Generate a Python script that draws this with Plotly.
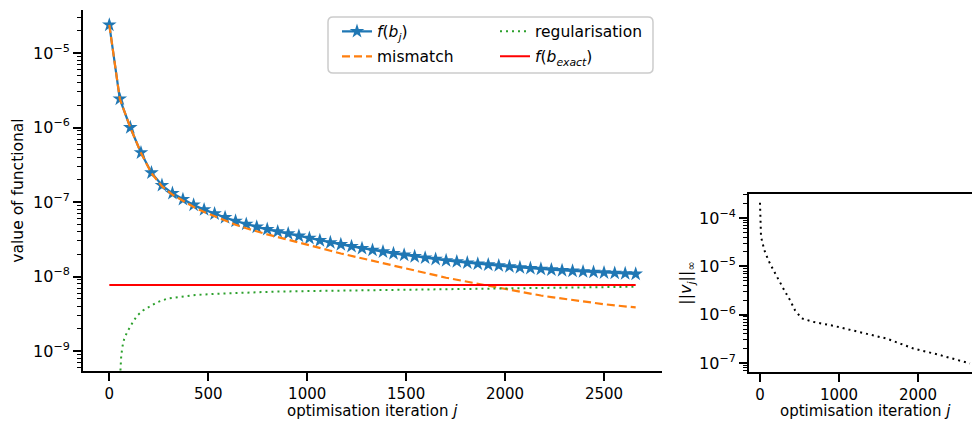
import plotly.graph_objects as go

# ---------------- data ----------------
iters_marked = [0, 53, 106, 160, 213, 266, 319, 372, 426, 479, 532, 585, 638, 692, 745,
                798, 851, 904, 958, 1011, 1064, 1117, 1170, 1224, 1277, 1330, 1383, 1436,
                1490, 1543, 1596, 1649, 1702, 1756, 1809, 1862, 1915, 1968, 2022, 2075,
                2128, 2181, 2234, 2288, 2341, 2394, 2447, 2500, 2554, 2607, 2660]
functional = [2.38e-5, 2.42e-6, 1.0e-6, 4.59e-7, 2.47e-7, 1.675e-7, 1.309e-7, 1.086e-7,
              9.14e-8, 7.91e-8, 6.97e-8, 6.21e-8, 5.56e-8, 5.05e-8, 4.63e-8, 4.30e-8,
              4.01e-8, 3.76e-8, 3.50e-8, 3.27e-8, 3.05e-8, 2.86e-8, 2.69e-8, 2.54e-8,
              2.39e-8, 2.26e-8, 2.15e-8, 2.04e-8, 1.945e-8, 1.86e-8, 1.78e-8, 1.71e-8,
              1.64e-8, 1.585e-8, 1.53e-8, 1.48e-8, 1.44e-8, 1.40e-8, 1.36e-8, 1.32e-8,
              1.29e-8, 1.26e-8, 1.233e-8, 1.208e-8, 1.186e-8, 1.164e-8, 1.146e-8,
              1.127e-8, 1.112e-8, 1.096e-8, 1.081e-8]
mismatch = [2.38e-5, 2.42e-6, 1.0e-6, 4.56e-7, 2.43e-7, 1.63e-7, 1.257e-7, 1.032e-7,
            8.58e-8, 7.34e-8, 6.39e-8, 5.62e-8, 4.96e-8, 4.44e-8, 4.02e-8, 3.68e-8,
            3.39e-8, 3.13e-8, 2.87e-8, 2.63e-8, 2.41e-8, 2.22e-8, 2.04e-8, 1.89e-8,
            1.74e-8, 1.605e-8, 1.49e-8, 1.38e-8, 1.28e-8, 1.19e-8, 1.11e-8, 1.037e-8,
            9.64e-9, 9.05e-9, 8.47e-9, 7.94e-9, 7.51e-9, 7.08e-9, 6.65e-9, 6.22e-9,
            5.89e-9, 5.56e-9, 5.3e-9, 5.05e-9, 4.83e-9, 4.62e-9, 4.43e-9, 4.25e-9,
            4.1e-9, 3.96e-9, 3.85e-9]
reg_iters = [45, 50, 55, 60, 66, 75, 90, 105, 125, 144, 170, 202, 240, 298, 360, 434,
             530, 650, 821, 1000, 1200, 1401, 1600, 1800, 1982, 2200, 2400, 2660]
regularisation = [1.5e-10, 3e-10, 5.9e-10, 8.5e-10, 1.14e-9, 1.45e-9, 1.8e-9, 2.12e-9,
                  2.6e-9, 3.04e-9, 3.5e-9, 3.93e-9, 4.5e-9, 5.1e-9, 5.4e-9, 5.65e-9,
                  5.85e-9, 6.02e-9, 6.25e-9, 6.38e-9, 6.5e-9, 6.59e-9, 6.7e-9, 6.83e-9,
                  6.95e-9, 7.07e-9, 7.17e-9, 7.3e-9]
exact_iters = [0, 2660]
f_exact = [7.7e-9, 7.7e-9]

v_iters = [0, 13, 55, 105, 169, 245, 308, 380, 443, 527, 675, 928, 1266, 1603, 1941,
           2278, 2658]
v_norm = [2.07e-4, 4.1e-5, 2.17e-5, 1.35e-5, 8.4e-6, 4.8e-6, 3.2e-6, 2.0e-6, 1.24e-6,
          8.4e-7, 7.1e-7, 5.9e-7, 4.4e-7, 3.2e-7, 2.0e-7, 1.46e-7, 9.8e-8]

left_ticks = [0, 500, 1000, 1500, 2000, 2500]
right_ticks = [0, 1000, 2000]
left_decades = [-9, -8, -7, -6, -5]
right_decades = [-7, -6, -5, -4]

# ---------------- figure ----------------
W, H = 972, 421
FONT = "DejaVu Sans"
BLUE, ORANGE, GREEN, RED = "#1f77b4", "#ff7f0e", "#2ca02c", "#ff0000"


def px_x(p):
    return p / W


def px_y(p):
    return 1 - p / H


fig = go.Figure()

fig.add_trace(go.Scatter(
    x=iters_marked, y=functional, mode="lines+markers", name="<i>f</i>(<i>b<sub>j</sub></i>)",
    line=dict(color=BLUE, width=2.2),
    marker=dict(symbol="star", size=11, color=BLUE, line=dict(width=0)),
    legend="legend", xaxis="x", yaxis="y"))
fig.add_trace(go.Scatter(
    x=iters_marked, y=mismatch, mode="lines", name="mismatch",
    line=dict(color=ORANGE, width=2.2, dash="8px,4px"),
    legend="legend2", xaxis="x", yaxis="y"))
fig.add_trace(go.Scatter(
    x=reg_iters, y=regularisation, mode="lines", name="regularisation",
    line=dict(color=GREEN, width=2.0, dash="2px,4px"),
    legend="legend3", xaxis="x", yaxis="y"))
fig.add_trace(go.Scatter(
    x=exact_iters, y=f_exact, mode="lines", name="<i>f</i>(<i>b<sub>exact</sub></i>)",
    line=dict(color=RED, width=2.0),
    legend="legend4", xaxis="x", yaxis="y"))
fig.add_trace(go.Scatter(
    x=v_iters, y=v_norm, mode="lines", name="v",
    line=dict(color="black", width=2.0, dash="2px,4px"),
    showlegend=False, xaxis="x2", yaxis="y2"))

axis_common = dict(
    showline=True, linecolor="black", linewidth=1.8, ticks="outside", ticklen=8,
    tickwidth=1.5, tickcolor="black", showgrid=False, zeroline=False,
)
xfont = dict(family=FONT, size=15, color="black")
yfont = dict(family=FONT, size=16, color="black")

fig.update_layout(
    width=W, height=H, margin=dict(l=0, r=0, t=0, b=0),
    paper_bgcolor="white", plot_bgcolor="white",
    font=dict(family=FONT, size=15, color="black"),
    xaxis=dict(domain=[px_x(83), px_x(662)], range=[-133, 2793], tickvals=left_ticks,
               anchor="y", tickfont=xfont,
               **axis_common),
    yaxis=dict(domain=[px_y(371), px_y(10)], type="log", range=[-9.268, -4.423],
               anchor="x", tickfont=yfont,
               tickvals=[10 ** d for d in left_decades],
               ticktext=["10<sup>\u2212%d</sup>" % (-d) for d in left_decades],
               minor=dict(ticks="outside", ticklen=4.5, tickwidth=1.1, tickcolor="black",
                          dtick="D1", showgrid=False),
               title=dict(text="value of functional", standoff=6,
                          font=dict(family=FONT, size=15.5)),
               **axis_common),
    xaxis2=dict(domain=[px_x(749), 1.0], range=[-139, 2684], tickvals=right_ticks,
                anchor="y2", mirror=True, tickfont=xfont,
                **axis_common),
    yaxis2=dict(domain=[px_y(372), px_y(194)], type="log", range=[-7.186, -3.503],
                anchor="x2", tickfont=yfont,
                tickvals=[10 ** d for d in right_decades],
                ticktext=["10<sup>\u2212%d</sup>" % (-d) for d in right_decades],
                minor=dict(ticks="outside", ticklen=4.5, tickwidth=1.1, tickcolor="black",
                           dtick="D1", showgrid=False),
                title=dict(text="||<i>v<sub>j</sub></i>||<sub>\u221e</sub>", standoff=3,
                           font=dict(family=FONT, size=16)),
                **axis_common),
    showlegend=True,
)

# x labels (right axes extends slightly past the canvas edge in the reference)
for cx in (372.5, 865):
    fig.add_annotation(text="optimisation iteration <i>j</i>", xref="paper", yref="paper",
                       x=px_x(cx), y=px_y(411), xanchor="center", yanchor="middle",
                       showarrow=False, font=dict(family=FONT, size=15, color="black"))

# legends: one per entry, arranged in two columns inside a common frame
leg_font = dict(family=FONT, size=15.5, color="black")
leg_pos = {"legend": (337, 31.7), "legend2": (337, 56.7),
           "legend3": (495, 31.7), "legend4": (495, 56.7)}
for name, (lx, ly) in leg_pos.items():
    fig.update_layout({name: dict(x=px_x(lx), y=px_y(ly), xanchor="left", yanchor="middle",
                                  bgcolor="rgba(0,0,0,0)", borderwidth=0, font=leg_font,
                                  itemwidth=30)})

# legend frame (rounded rectangle)
x0, x1, y0, y1, r = 328, 653, 17, 73, 5
pts = [("M", x0 + r, y0), ("L", x1 - r, y0), ("Q", x1, y0, x1, y0 + r), ("L", x1, y1 - r),
       ("Q", x1, y1, x1 - r, y1), ("L", x0 + r, y1), ("Q", x0, y1, x0, y1 - r),
       ("L", x0, y0 + r), ("Q", x0, y0, x0 + r, y0)]
path = ""
for p in pts:
    cmd = p[0]
    coords = p[1:]
    seg = []
    for i in range(0, len(coords), 2):
        seg.append("%.5f,%.5f" % (px_x(coords[i]), px_y(coords[i + 1])))
    path += cmd + " ".join(seg) + " "
path += "Z"
fig.add_shape(type="path", path=path, xref="paper", yref="paper",
              line=dict(color="#cccccc", width=1.5), fillcolor="rgba(255,255,255,0.8)",
              layer="below")

fig.write_html("out.html", config={"displayModeBar": False})
